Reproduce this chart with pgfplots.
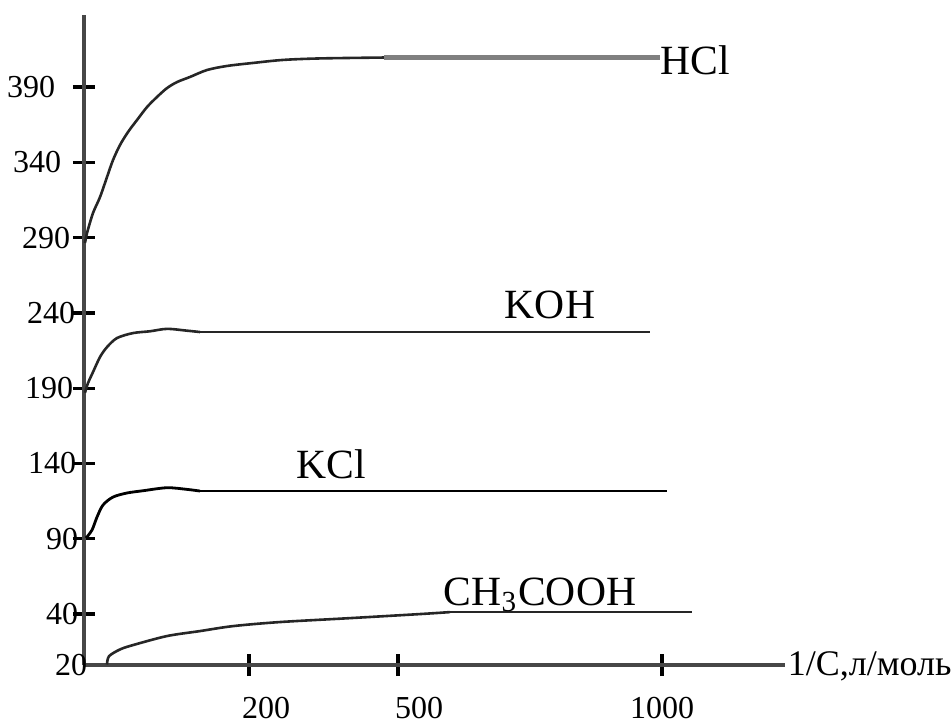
\documentclass[border=0pt]{standalone}
\usepackage{fontspec}
\setmainfont{Liberation Serif}
\usepackage{pgfplots}
\pgfplotsset{compat=1.18}
\begin{document}
\begin{tikzpicture}
\begin{axis}[
  x=0.25bp, y=0.37643bp,
  xmin=0, xmax=701, ymin=6.1, ymax=437.8,
  enlargelimits=false,
  axis lines=left,
  axis line style={-, black!72, line width=1bp},
  clip=false,
  tick align=center,
  major tick length=5.5bp,
  every tick/.style={black, line width=0.8bp},
  xtick={165,314,578},
  xticklabels={\kern8.5bp 200,\kern10.5bp 500,1000},
  ytick={40,90,140,190,240,290,340,390},
  yticklabels={40\kern-1.5bp,90\kern-1.5bp,140\kern-1bp,190\kern-0.25bp,240\kern-0.75bp,290\kern0.5bp,340\kern2.75bp,390\kern4.25bp},
  extra y ticks={6.1},
  extra y tick labels={20\kern-1bp},
  extra y tick style={major tick length=0pt},
  tick label style={font=\fontsize{8bp}{10bp}\selectfont, inner sep=0pt},
  xticklabel style={anchor=north, yshift=-5bp},
  yticklabel style={anchor=east},
]
% HCl
\addplot[black!85, line width=0.65bp, smooth, tension=0.5] coordinates {
(1,286.4)(3,293)(9,306.3)(16,316.9)(23,330.2)(29,341.5)(36,351.5)(44,360.1)
(53,368.1)(63,376.7)(73,383.4)(83,389.3)(93,393.3)(106,396.7)(123,401.3)
(143,404)(169,406)(199,408)(236,409)(300,409.6)};
\addplot[black!50, line width=1.3bp] coordinates {(300,409.6)(576,409.6)};
% KOH
\addplot[black!85, line width=0.65bp, smooth, tension=0.5] coordinates {
(1,187)(4,193.4)(9,200.7)(16,210.7)(23,217.3)(33,223.3)(49,226.6)(66,227.8)
(83,229.4)(103,228.2)(116,227.3)};
\addplot[black!85, line width=0.65bp] coordinates {(116,227.3)(566,227.3)};
% KCl
\addplot[black, line width=0.7bp, smooth, tension=0.5] coordinates {
(2,90.5)(8,95.8)(13,104.4)(19,112.4)(29,117.7)(43,120.4)(59,121.9)(83,123.9)
(103,122.8)(116,121.7)};
\addplot[black, line width=0.7bp] coordinates {(116,121.7)(583,121.7)};
% CH3COOH
\addplot[black!85, line width=0.65bp, smooth, tension=0.5] coordinates {
(23,6.5)(25,12)(36,16.5)(49,19.4)(83,25.4)(116,28.7)(149,32)(196,34.7)
(266,37.3)(336,40)(366,41.3)};
\addplot[black!85, line width=0.65bp] coordinates {(366,41.3)(608,41.3)};
% labels
\node[anchor=base west, inner sep=0pt, font=\fontsize{10.4bp}{12bp}\selectfont] at (axis cs:576,398) {HCl};
\node[anchor=base, inner sep=0pt, font=\fontsize{10.4bp}{12bp}\selectfont] at (axis cs:466,236.6) {KOH};
\node[anchor=base, inner sep=0pt, font=\fontsize{10.4bp}{12bp}\selectfont] at (axis cs:247,130.3) {KCl};
\node[anchor=base, inner sep=0pt, font=\fontsize{10.4bp}{12bp}\selectfont] at (axis cs:456,46) {CH\textsubscript{3}COOH};
\node[anchor=base west, inner sep=0pt, font=\fontsize{9bp}{11bp}\selectfont] at (axis cs:703,-0.5) {1/C,л/моль};
\path (axis cs:-84,-30.4) rectangle (axis cs:868,447.8);
\end{axis}
\end{tikzpicture}
\end{document}
